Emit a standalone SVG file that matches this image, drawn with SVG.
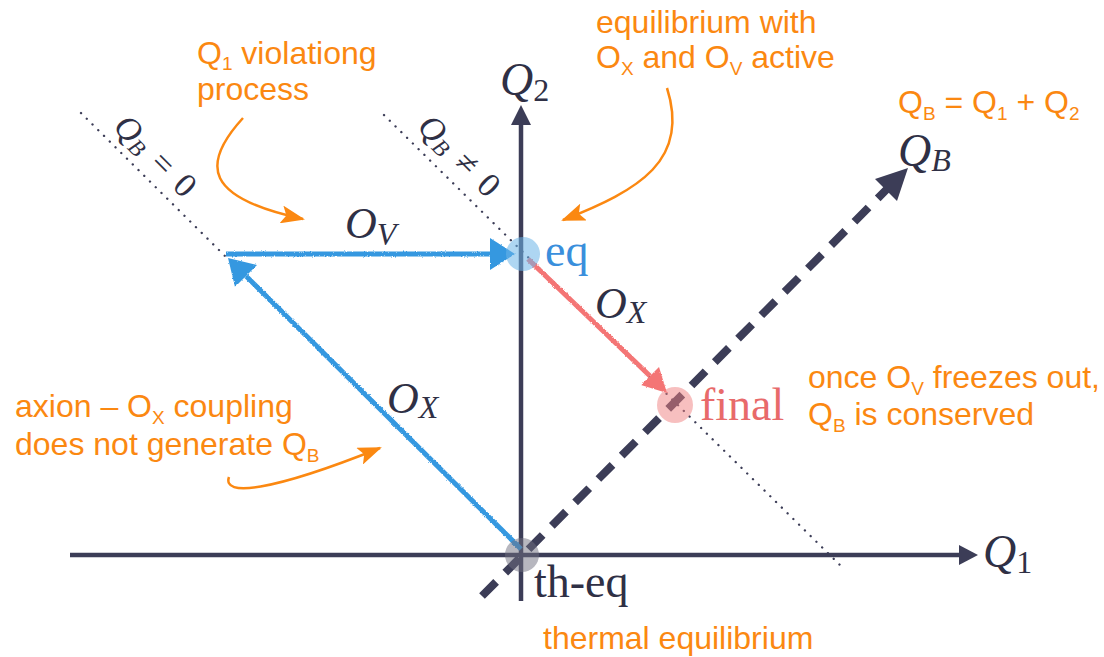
<svg xmlns="http://www.w3.org/2000/svg" width="1104" height="657" viewBox="0 0 1104 657">
<style>
.ann{font-family:"Liberation Sans",Arial,sans-serif;font-size:32px;fill:#fb8811}
.sub{font-size:19px}
.math{font-family:"Liberation Serif","Times New Roman",serif;fill:#2f3045}
.it{font-style:italic}
.axis{stroke:#3c3d57;stroke-width:4.5;fill:none}
.axhead{fill:#3c3d57}
.dot{stroke:#3c3d57;stroke-width:2.3;stroke-dasharray:0.1 8;stroke-linecap:round;fill:none}
.oarr{stroke:#fb8811;stroke-width:2.5;fill:none;marker-end:url(#mo)}
.blue{stroke:#3598e0;stroke-width:5;fill:none}
.bluehead{fill:#3598e0}
.red{stroke:#f47474;stroke-width:5;fill:none}
.redhead{fill:#f47474}
.rough{filter:url(#pencil)}
</style>
<defs>
<marker id="mo" viewBox="0 0 24 18" refX="22" refY="9" markerWidth="24" markerHeight="18" markerUnits="userSpaceOnUse" orient="auto">
<path d="M0,0 L24,9 L0,18 L5,9 z" fill="#fb8811"/>
</marker>
<filter id="pencil" x="-5%" y="-5%" width="110%" height="110%">
<feTurbulence type="fractalNoise" baseFrequency="0.9" numOctaves="2" seed="3" result="n"/>
<feDisplacementMap in="SourceGraphic" in2="n" scale="2.5" xChannelSelector="R" yChannelSelector="G"/>
</filter>
</defs>
<rect width="1104" height="657" fill="#ffffff"/>

<g id="axes">
<line class="axis" x1="70" y1="555" x2="962" y2="555"/>
<polygon class="axhead" points="978,555 959,545 959,565"/>
<line class="axis" x1="521" y1="601" x2="521" y2="120"/>
<polygon class="axhead" points="521,105 511,125 531,125"/>
</g>

<g id="connectors">
<line class="dot" x1="81" y1="113" x2="226" y2="257"/>
<line class="dot" x1="384" y1="115" x2="843" y2="568"/>
<line x1="482" y1="596" x2="887" y2="189" stroke="#3c3d57" stroke-width="8" stroke-dasharray="20 13" fill="none"/>
<polygon class="axhead" points="908,168 897,201 875,179"/>
<g class="rough">
<line class="blue" x1="226" y1="254" x2="495" y2="254"/>
<polygon class="bluehead" points="515,254 490,238 490,270"/>
<line class="blue" x1="521" y1="549" x2="246" y2="276"/>
<polygon class="bluehead" points="228,258 257,265 235,287"/>
<line class="red" x1="528" y1="259" x2="650" y2="376"/>
<polygon class="redhead" points="667,393 641,385 659,367"/>
</g>
<path class="oarr" d="M243,118 C200,165 205,198 303,219"/>
<path class="oarr" d="M667,88 C690,160 640,190 563,220"/>
<path class="oarr" d="M229,477 C222,497 270,492 380,448"/>
</g>

<g id="eq">
<circle cx="523" cy="254" r="17" fill="#6cb4e8" fill-opacity="0.55"/>
<text class="math" x="545" y="266" font-size="46" style="fill:#3a8fdc">eq</text>
</g>
<g id="final">
<circle cx="675" cy="405" r="18" fill="#f08080" fill-opacity="0.5"/>
<text class="math" x="700" y="420" font-size="46" style="fill:#e86a6a">final</text>
</g>
<g id="th-eq">
<circle cx="522" cy="555" r="17" fill="#707080" fill-opacity="0.5"/>
<text class="math" x="534" y="597" font-size="46">th-eq</text>
</g>

<g id="axis-labels">
<text class="math" x="500" y="95"><tspan class="it" font-size="46">Q</tspan><tspan font-size="32" dy="6">2</tspan></text>
<text class="math" x="983" y="567"><tspan class="it" font-size="46">Q</tspan><tspan font-size="32" dy="6">1</tspan></text>
<text class="math" x="898" y="166"><tspan class="it" font-size="46">Q</tspan><tspan class="it" font-size="32" dy="5">B</tspan></text>
<text class="math" transform="translate(112,128) rotate(45)" font-size="34"><tspan class="it">Q</tspan><tspan class="it" font-size="23" dy="4">B</tspan><tspan dy="-4" dx="13">=</tspan><tspan dx="13">0</tspan></text>
<text class="math" transform="translate(416,128) rotate(45)" font-size="34"><tspan class="it">Q</tspan><tspan class="it" font-size="23" dy="4">B</tspan><tspan dy="-4" dx="13">≠</tspan><tspan dx="13">0</tspan></text>
</g>

<g id="arrow-labels">
<text class="math" x="345" y="238"><tspan class="it" font-size="44">O</tspan><tspan class="it" font-size="32" dy="7">V</tspan></text>
<text class="math" x="595" y="318"><tspan class="it" font-size="44">O</tspan><tspan class="it" font-size="32" dy="5">X</tspan></text>
<text class="math" x="387" y="413"><tspan class="it" font-size="44">O</tspan><tspan class="it" font-size="32" dy="5">X</tspan></text>
</g>

<g id="annotations">
<text class="ann" x="197" y="64">Q<tspan class="sub" dy="6">1</tspan><tspan dy="-6"> violationg</tspan></text>
<text class="ann" x="197" y="100">process</text>
<text class="ann" x="596" y="33">equilibrium with</text>
<text class="ann" x="596" y="68">O<tspan class="sub" dy="7">X</tspan><tspan dy="-7"> and O</tspan><tspan class="sub" dy="7">V</tspan><tspan dy="-7"> active</tspan></text>
<text class="ann" x="898" y="113">Q<tspan class="sub" dy="7">B</tspan><tspan dy="-7"> = Q</tspan><tspan class="sub" dy="7">1</tspan><tspan dy="-7"> + Q</tspan><tspan class="sub" dy="7">2</tspan></text>
<text class="ann" x="808" y="388">once O<tspan class="sub" dy="7">V</tspan><tspan dy="-7"> freezes out,</tspan></text>
<text class="ann" x="808" y="425">Q<tspan class="sub" dy="7">B</tspan><tspan dy="-7"> is conserved</tspan></text>
<text class="ann" x="15" y="417">axion – O<tspan class="sub" dy="7">X</tspan><tspan dy="-7"> coupling</tspan></text>
<text class="ann" x="15" y="455">does not generate Q<tspan class="sub" dy="7">B</tspan></text>
<text class="ann" x="543" y="649">thermal equilibrium</text>
</g>
</svg>
